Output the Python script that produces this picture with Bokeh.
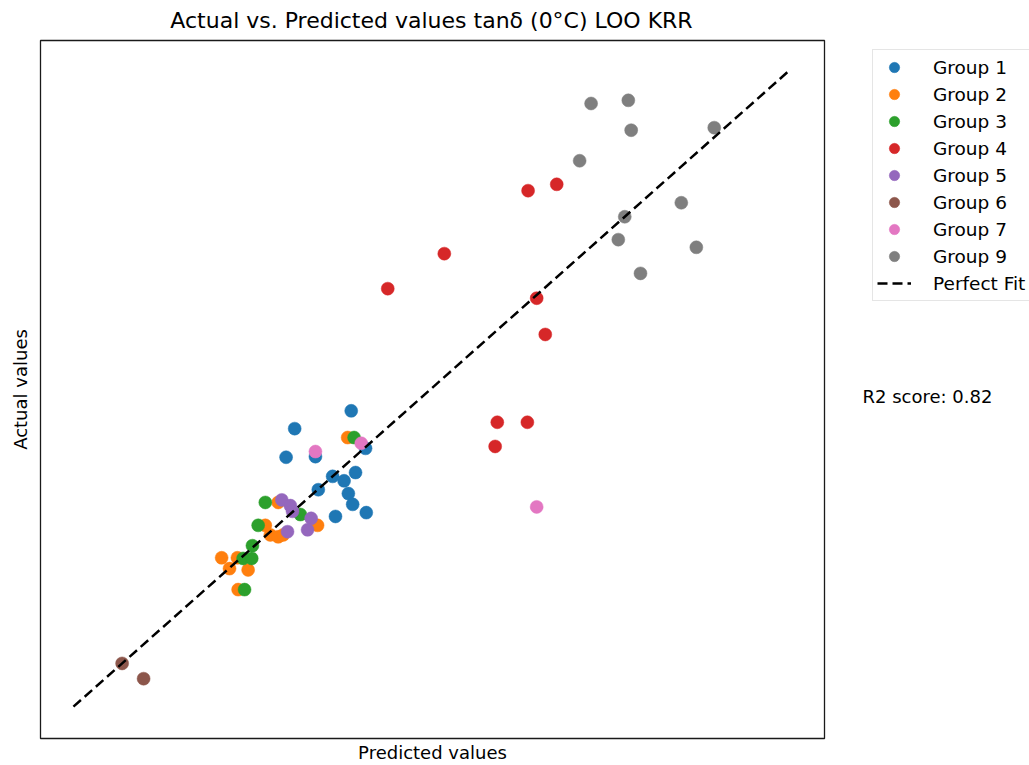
from bokeh.plotting import figure
from bokeh.models import Range1d, Label, Legend, BoxAnnotation
from bokeh.embed import file_html
from bokeh.resources import INLINE

# Leave-one-out KRR predictions vs. measured tan-delta (0 degC), by sample group
group_names = ["Group 1", "Group 2", "Group 3", "Group 4", "Group 5",
               "Group 6", "Group 7", "Group 9"]
group_colors = ["#1f77b4", "#ff7f0e", "#2ca02c", "#d62728", "#9467bd",
                "#8c564b", "#e377c2", "#7f7f7f"]

pred_g1 = [0.388, 0.309, 0.297, 0.338, 0.408, 0.394, 0.362, 0.378, 0.342, 0.384, 0.390, 0.366, 0.409]
act_g1 = [0.465, 0.437, 0.392, 0.393, 0.406, 0.368, 0.362, 0.355, 0.341, 0.335, 0.318, 0.299, 0.305]

pred_g2 = [0.383, 0.286, 0.341, 0.268, 0.275, 0.286, 0.293, 0.207, 0.229, 0.218, 0.244, 0.230]
act_g2 = [0.423, 0.321, 0.285, 0.285, 0.270, 0.267, 0.270, 0.234, 0.234, 0.217, 0.215, 0.184]

pred_g3 = [0.392, 0.268, 0.317, 0.258, 0.250, 0.237, 0.249, 0.239]
act_g3 = [0.423, 0.321, 0.302, 0.285, 0.253, 0.233, 0.233, 0.184]

pred_g4 = [0.439, 0.518, 0.635, 0.675, 0.647, 0.659, 0.592, 0.634, 0.589]
act_g4 = [0.657, 0.712, 0.811, 0.821, 0.642, 0.585, 0.447, 0.447, 0.409]

pred_g5 = [0.291, 0.303, 0.306, 0.332, 0.327, 0.299]
act_g5 = [0.325, 0.316, 0.307, 0.296, 0.278, 0.275]

pred_g6 = [0.068, 0.098]
act_g6 = [0.068, 0.044]

pred_g7 = [0.338, 0.402, 0.647]
act_g7 = [0.401, 0.414, 0.314]

pred_g9 = [0.723, 0.775, 0.779, 0.895, 0.707, 0.770, 0.849, 0.761, 0.870, 0.792]
act_g9 = [0.948, 0.953, 0.906, 0.910, 0.858, 0.770, 0.792, 0.734, 0.722, 0.681]

fit_limits = [0.0, 1.0]
r2_text = "R2 score: 0.82"

preds = [pred_g1, pred_g2, pred_g3, pred_g4, pred_g5, pred_g6, pred_g7, pred_g9]
acts = [act_g1, act_g2, act_g3, act_g4, act_g5, act_g6, act_g7, act_g9]

FONT = "DejaVu Sans"
W, H = 1029, 765

# axes box limits (data) and its placement on the canvas (px)
x_lo, x_hi = -0.046, 1.049
y_lo, y_hi = -0.050, 1.047
m_left, m_right, m_top, m_bottom = 40, 205, 40, 27

# extend the ranges so the whole canvas is the drawing area and the axes box
# sits at the given margins
sx = (W - m_left - m_right) / (x_hi - x_lo)
sy = (H - m_top - m_bottom) / (y_hi - y_lo)
x_range = Range1d(x_lo - m_left / sx, x_hi + m_right / sx)
y_range = Range1d(y_lo - m_bottom / sy, y_hi + m_top / sy)

p = figure(width=W, height=H, output_backend="svg", toolbar_location=None,
           x_range=x_range, y_range=y_range, min_border=0)
p.min_border_left = 0
p.min_border_right = 0
p.min_border_top = 0
p.min_border_bottom = 0
p.xaxis.visible = False
p.yaxis.visible = False
p.xgrid.visible = False
p.ygrid.visible = False
p.outline_line_color = None
p.background_fill_color = "white"
p.border_fill_color = "white"

# axes frame
frame = BoxAnnotation(left=x_lo, right=x_hi, bottom=y_lo, top=y_hi,
                      fill_color=None, fill_alpha=0, line_color="#1a1a1a",
                      line_alpha=1.0, line_width=1.3)
p.add_layout(frame)

items = []
for name, color, xs, ys in zip(group_names, group_colors, preds, acts):
    r = p.scatter(xs, ys, size=13, fill_color=color, line_color=color, line_width=0.5)
    items.append((name, [r]))

line = p.line(fit_limits, fit_limits, line_color="black", line_width=2.5, line_dash="10 5")
items.append(("Perfect Fit", [line]))

legend = Legend(items=items, location=(872, H - 301))
legend.label_text_font = FONT
legend.label_text_font_size = "18.5px"
legend.label_text_color = "black"
legend.border_line_color = "#cccccc"
legend.border_line_width = 1
legend.padding = 4
legend.spacing = 1
legend.label_height = 26
legend.glyph_height = 26
legend.glyph_width = 34
legend.label_standoff = 22
legend.margin = 0
p.add_layout(legend, "center")

title = Label(x=431, y=H - 20, x_units="screen", y_units="screen",
              text="Actual vs. Predicted values tanδ (0°C) LOO KRR",
              text_font=FONT, text_font_size="22px", text_align="center",
              text_baseline="middle", text_color="black")
xlab = Label(x=432, y=H - 752, x_units="screen", y_units="screen", text="Predicted values",
             text_font=FONT, text_font_size="18px", text_align="center",
             text_baseline="middle", text_color="black")
ylab = Label(x=20, y=H - 389, x_units="screen", y_units="screen", text="Actual values",
             angle=1.5708, text_font=FONT, text_font_size="18px", text_align="center",
             text_baseline="middle", text_color="black")
r2 = Label(x=862, y=H - 396, x_units="screen", y_units="screen", text=r2_text,
           text_font=FONT, text_font_size="18px", text_align="left",
           text_baseline="middle", text_color="black")
for lab in (title, xlab, ylab, r2):
    p.add_layout(lab)

open("out.html", "w").write(file_html(p, INLINE))
